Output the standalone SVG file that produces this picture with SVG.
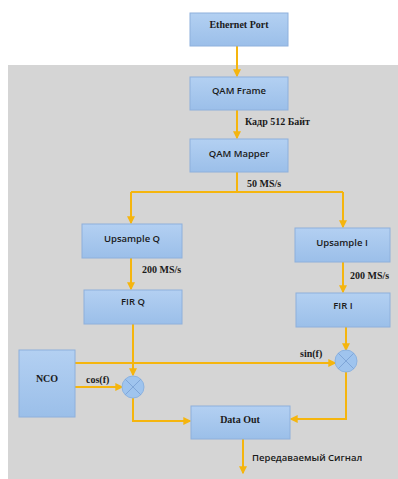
<svg xmlns="http://www.w3.org/2000/svg" width="398" height="479" viewBox="0 0 398 479">
<style>
.box{fill:url(#bg);stroke:#8eb0dc;stroke-width:1}
.ln{fill:none;stroke:#f5b50e;stroke-width:2}
.ts{font-family:"Liberation Serif",serif;font-weight:bold;font-size:10px;fill:#1a1a1a}
.tc{font-family:"Open Sans","Liberation Sans",sans-serif;font-weight:600;font-size:9.5px;fill:#1a1a1a}
.mul{fill:#9fc4ee;stroke:#8db3e0;stroke-width:1}
.x{stroke:#7fa6d8;stroke-width:1}
</style>
<defs>
<linearGradient id="bg" x1="0" y1="0" x2="0" y2="1">
<stop offset="0" stop-color="#b3d0f2"/>
<stop offset="1" stop-color="#9bbfe9"/>
</linearGradient>
<marker id="ah" viewBox="0 0 6 6" refX="5" refY="3" markerWidth="4" markerHeight="4" orient="auto">
<path d="M0,0 L6,3 L0,6 z" fill="#f5b50e"/>
</marker>
</defs>
<rect x="0" y="0" width="398" height="479" fill="#ffffff"/>
<rect x="8" y="65" width="390" height="414" fill="#d5d5d5"/>
<g id="connectors">
<path class="ln" d="M237,46 V76" marker-end="url(#ah)"/>
<path class="ln" d="M237,110 V138" marker-end="url(#ah)"/>
<path class="ln" d="M237,172 V192 M131,192 H343"/>
<path class="ln" d="M131,192 V223" marker-end="url(#ah)"/>
<path class="ln" d="M343,192 V227" marker-end="url(#ah)"/>
<path class="ln" d="M131,258 V289" marker-end="url(#ah)"/>
<path class="ln" d="M343,262 V292" marker-end="url(#ah)"/>
<path class="ln" d="M133,324 V375" marker-end="url(#ah)"/>
<path class="ln" d="M346,327 V350" marker-end="url(#ah)"/>
<path class="ln" d="M75,363 H335" marker-end="url(#ah)"/>
<path class="ln" d="M75,387 H122" marker-end="url(#ah)"/>
<path class="ln" d="M133,398 V421 H190" marker-end="url(#ah)"/>
<path class="ln" d="M346,372 V419 H291" marker-end="url(#ah)"/>
<path class="ln" d="M243,439 V473" marker-end="url(#ah)"/>
<text class="ts" x="245" y="125">Кадр 512 Байт</text>
<text class="ts" x="247" y="187">50 MS/s</text>
<text class="ts" x="142" y="273">200 MS/s</text>
<text class="ts" x="350" y="279">200 MS/s</text>
<text class="ts" x="300" y="357">sin(f)</text>
<text class="ts" x="86" y="383">cos(f)</text>
<text class="tc" x="252" y="461" font-size="9">Передаваемый Сигнал</text>
</g>
<g id="ethernet"><rect class="box" x="190" y="13" width="98" height="33"/><text class="ts" x="239" y="28" text-anchor="middle">Ethernet Port</text></g>
<g id="qamframe"><rect class="box" x="190" y="77" width="98" height="33"/><text class="tc" x="239" y="94" text-anchor="middle">QAM Frame</text></g>
<g id="qammapper"><rect class="box" x="190" y="139" width="98" height="33"/><text class="tc" x="239" y="157" text-anchor="middle">QAM Mapper</text></g>
<g id="upsampleq"><rect class="box" x="82" y="224" width="100" height="34"/><text class="tc" x="132" y="242" text-anchor="middle">Upsample Q</text></g>
<g id="upsamplei"><rect class="box" x="295" y="228" width="95" height="34"/><text class="tc" x="342" y="246" text-anchor="middle">Upsample I</text></g>
<g id="firq"><rect class="box" x="84" y="290" width="98" height="34"/><text class="tc" x="133" y="305" text-anchor="middle">FIR Q</text></g>
<g id="firi"><rect class="box" x="296" y="293" width="94" height="34"/><text class="tc" x="343" y="309" text-anchor="middle">FIR I</text></g>
<g id="nco"><rect class="box" x="19" y="350" width="56" height="67"/><text class="ts" x="47" y="382" text-anchor="middle">NCO</text></g>
<g id="mulq"><circle class="mul" cx="133" cy="387" r="11"/><path class="x" d="M125.2,379.2 L140.8,394.8 M140.8,379.2 L125.2,394.8"/></g>
<g id="muli"><circle class="mul" cx="346" cy="361" r="11"/><path class="x" d="M338.2,353.2 L353.8,368.8 M353.8,353.2 L338.2,368.8"/></g>
<g id="dataout"><rect class="box" x="191" y="406" width="99" height="33"/><text class="ts" x="240" y="423" text-anchor="middle">Data Out</text></g>
</svg>
